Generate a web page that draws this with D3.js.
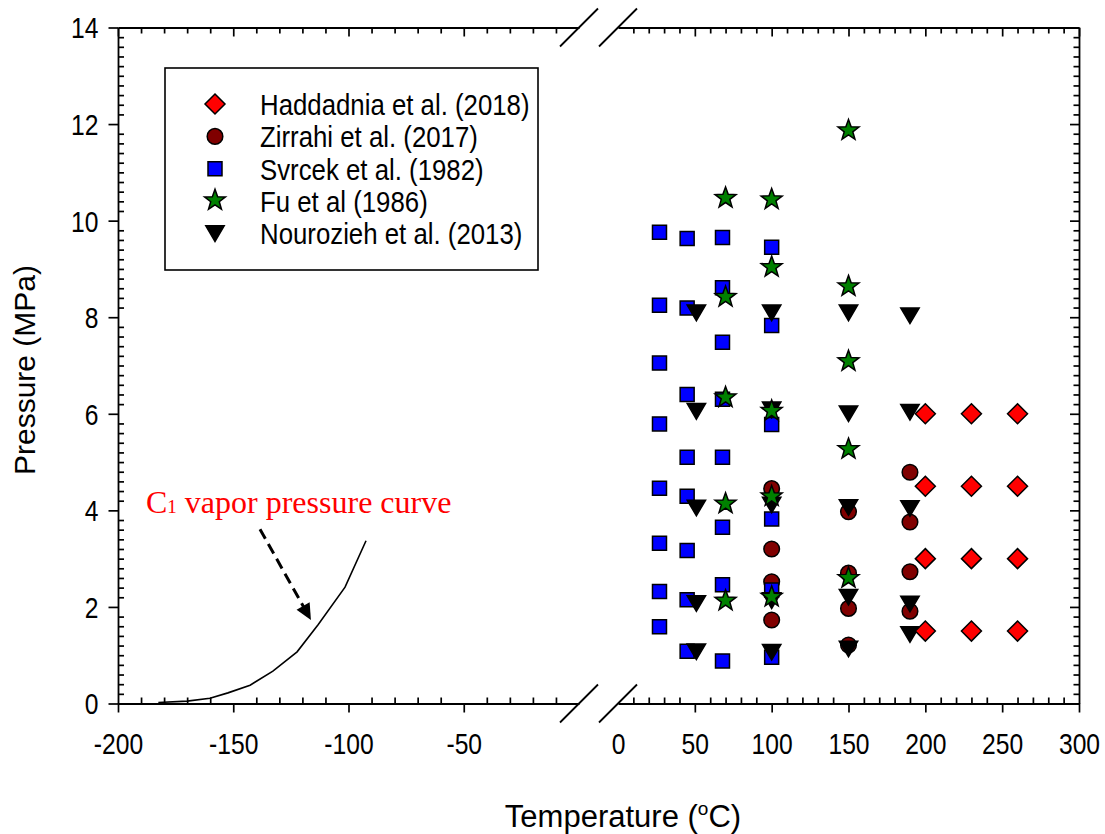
<!DOCTYPE html>
<html>
<head>
<meta charset="utf-8">
<script src="https://cdn.jsdelivr.net/npm/d3@7"></script>
<style>
  body { margin: 0; background: #fff; }
</style>
</head>
<body>
<svg id="chart" width="1105" height="834" font-family="'Liberation Sans', Arial, sans-serif"></svg>
<script>
// ---------- data ----------
// Haddadnia et al. (2018)
const haddadniaT = [200, 200, 200, 200, 230, 230, 230, 230, 260, 260, 260, 260];
const haddadniaP = [6.0, 4.5, 3.0, 1.5, 6.0, 4.5, 3.0, 1.5, 6.0, 4.5, 3.0, 1.5];

// Zirrahi et al. (2017)
const zirrahiT = [100, 100, 100, 100, 150, 150, 150, 150, 190, 190, 190, 190];
const zirrahiP = [4.45, 3.20, 2.52, 1.73, 3.97, 2.70, 1.97, 1.21, 4.79, 3.76, 2.73, 1.91];

// Svrcek et al. (1982)
const svrcekT = [27, 27, 27, 27, 27, 27, 27, 27,
                 45, 45, 45, 45, 45, 45, 45, 45,
                 68, 68, 68, 68, 68, 68, 68, 68,
                 100, 100, 100, 100, 100, 100];
const svrcekP = [9.76, 8.25, 7.05, 5.79, 4.46, 3.32, 2.32, 1.59,
                 9.63, 8.19, 6.40, 5.10, 4.29, 3.17, 2.15, 1.08,
                 9.65, 8.61, 7.48, 6.30, 5.10, 3.65, 2.46, 0.88,
                 9.45, 7.83, 5.78, 3.82, 2.35, 0.96];

// Fu et al (1986)
const fuT = [70, 70, 70, 70, 70, 100, 100, 100, 100, 100, 150, 150, 150, 150, 150];
const fuP = [10.45, 8.40, 6.32, 4.12, 2.11, 10.42, 9.02, 6.04, 4.27, 2.19, 11.85, 8.62, 7.07, 5.25, 2.58];

// Nourozieh et al. (2013)
const nouroziehT = [51, 51, 51, 51, 51, 100, 100, 100, 100, 100, 150, 150, 150, 150, 150, 190, 190, 190, 190, 190];
const nouroziehP = [8.09, 6.05, 4.05, 2.07, 1.07, 8.09, 6.08, 4.11, 2.13, 1.06, 8.09, 6.00, 4.06, 2.20, 1.13, 8.03, 6.03, 4.04, 2.06, 1.43];

// Methane (C1) vapor pressure curve
const vaporT = [-182.5, -170.0, -160.1, -152.3, -142.7, -132.8, -122.3, -113.2, -101.5, -92.4];
const vaporP = [0.02, 0.05, 0.11, 0.22, 0.38, 0.67, 1.07, 1.63, 2.41, 3.37];

// axis ticks
const xTicksLeft = [-200, -150, -100, -50];
const xTicksRight = [0, 50, 100, 150, 200, 250, 300];
const yTicks = [0, 2, 4, 6, 8, 10, 12, 14];

const seriesNames = ["Haddadnia et al. (2018)", "Zirrahi et al. (2017)", "Svrcek et al. (1982)",
                     "Fu et al (1986)", "Nourozieh et al. (2013)"];

// ---------- layout ----------
const SANS = "'Liberation Sans', Arial, sans-serif";
const SERIF = "'Liberation Serif', 'Times New Roman', serif";
const plot = { left: 118, right: 1079, top: 27.5, bottom: 703.5, breakL: 579, breakR: 618 };

const xL = d3.scaleLinear().domain([-200, 0]).range([plot.left, plot.breakL]);
const xR = d3.scaleLinear().domain([0, 300]).range([plot.breakR, plot.right]);
const y = d3.scaleLinear().domain([0, 14]).range([plot.bottom, plot.top]);

const svg = d3.select("#chart");
svg.append("rect").attr("width", 1105).attr("height", 834).attr("fill", "#fff");

// ---------- marker shapes ----------
function markerPath(shape) {
  switch (shape) {
    case "diamond": return "M0,-10L10,0L0,10L-10,0Z";
    case "circle": { const p = d3.path(); p.moveTo(7.8, 0); p.arc(0, 0, 7.8, 0, 2 * Math.PI); p.closePath(); return p.toString(); }
    case "square": return "M-7,-7H7V7H-7Z";
    case "star": {
      const R = 11, r = 4.5, pts = [];
      for (let i = 0; i < 10; i++) {
        const a = -Math.PI / 2 + i * Math.PI / 5;
        const rad = i % 2 === 0 ? R : r;
        pts.push([rad * Math.cos(a), rad * Math.sin(a) - 0.9]);
      }
      return "M" + pts.map(p => p[0].toFixed(2) + "," + p[1].toFixed(2)).join("L") + "Z";
    }
    case "triangleDown": return "M-9.2,-7.8L9.2,-7.8L0,7.8Z";
  }
}

const styles = {
  "Haddadnia et al. (2018)": { shape: "diamond", fill: "#ff0000" },
  "Zirrahi et al. (2017)": { shape: "circle", fill: "#800000" },
  "Svrcek et al. (1982)": { shape: "square", fill: "#0000ff" },
  "Fu et al (1986)": { shape: "star", fill: "#008000" },
  "Nourozieh et al. (2013)": { shape: "triangleDown", fill: "#000000" }
};

const seriesData = {
  "Haddadnia et al. (2018)": haddadniaT.map((t, i) => [t, haddadniaP[i]]),
  "Zirrahi et al. (2017)": zirrahiT.map((t, i) => [t, zirrahiP[i]]),
  "Svrcek et al. (1982)": svrcekT.map((t, i) => [t, svrcekP[i]]),
  "Fu et al (1986)": fuT.map((t, i) => [t, fuP[i]]),
  "Nourozieh et al. (2013)": nouroziehT.map((t, i) => [t, nouroziehP[i]])
};

// ---------- axes ----------
function styleAxis(g) {
  g.attr("fill", "none");
  g.selectAll("path.domain").attr("stroke", "#000").attr("stroke-width", 1.8);
  g.selectAll(".tick line").attr("stroke", "#000").attr("stroke-width", 1.7);
}
const LABEL_SX = 0.85;
const minorLeftX = d3.range(-190, 0, 10).filter(v => v % 50 !== 0);
const minorRightX = d3.range(10, 300, 10).filter(v => v % 50 !== 0);
const minorY = d3.range(1, 70).filter(i => i % 10 !== 0).map(i => i / 5);

// bottom, left segment
const bL = svg.append("g").attr("transform", `translate(0,${plot.bottom})`)
  .call(d3.axisBottom(xL).tickValues(xTicksLeft).tickSize(9).tickSizeOuter(0).tickPadding(20.5).tickFormat(d => String(d)));
svg.append("g").attr("transform", `translate(0,${plot.bottom})`)
  .call(d3.axisBottom(xL).tickValues(minorLeftX).tickSize(-6).tickSizeOuter(0).tickFormat(""))
  .call(g => g.select(".domain").remove()).call(styleAxis);
// bottom, right segment
const bR = svg.append("g").attr("transform", `translate(0,${plot.bottom})`)
  .call(d3.axisBottom(xR).tickValues(xTicksRight).tickSize(9).tickSizeOuter(0).tickPadding(20.5).tickFormat(d => String(d)));
bR.selectAll(".tick").filter(d => d === 0).select("line").remove();
svg.append("g").attr("transform", `translate(0,${plot.bottom})`)
  .call(d3.axisBottom(xR).tickValues(minorRightX).tickSize(-6).tickSizeOuter(0).tickFormat(""))
  .call(g => g.select(".domain").remove()).call(styleAxis);
[bL, bR].forEach(g => {
  styleAxis(g);
  g.selectAll("text").attr("font-size", 29).attr("font-family", SANS)
    .attr("fill", "#000").attr("transform", `scale(${LABEL_SX},1)`);
});

// top, both segments (inward ticks only)
[[xL, xTicksLeft, minorLeftX], [xR, xTicksRight.filter(d => d !== 0), minorRightX]].forEach(([sc, maj, min]) => {
  svg.append("g").attr("transform", `translate(0,${plot.top})`)
    .call(d3.axisTop(sc).tickValues(maj).tickSize(-9).tickSizeOuter(0).tickFormat("")).call(styleAxis);
  svg.append("g").attr("transform", `translate(0,${plot.top})`)
    .call(d3.axisTop(sc).tickValues(min).tickSize(-6).tickSizeOuter(0).tickFormat(""))
    .call(g => g.select(".domain").remove()).call(styleAxis);
});

// left
const yAx = svg.append("g").attr("transform", `translate(${plot.left},0)`)
  .call(d3.axisLeft(y).tickValues(yTicks).tickSize(9.5).tickSizeOuter(0).tickFormat(d => String(d)));
styleAxis(yAx);
yAx.selectAll("text").attr("font-size", 29).attr("font-family", SANS)
  .attr("fill", "#000").attr("x", -19.5 / LABEL_SX).attr("dy", "0.36em").attr("transform", `scale(${LABEL_SX},1)`);
svg.append("g").attr("transform", `translate(${plot.left},0)`)
  .call(d3.axisLeft(y).tickValues(minorY).tickSize(-6).tickSizeOuter(0).tickFormat(""))
  .call(g => g.select(".domain").remove()).call(styleAxis);

// right (inward ticks)
svg.append("g").attr("transform", `translate(${plot.right},0)`)
  .call(d3.axisRight(y).tickValues(yTicks).tickSize(-9).tickSizeOuter(0).tickFormat("")).call(styleAxis);
svg.append("g").attr("transform", `translate(${plot.right},0)`)
  .call(d3.axisRight(y).tickValues(minorY).tickSize(-5.5).tickSizeOuter(0).tickFormat(""))
  .call(g => g.select(".domain").remove()).call(styleAxis);

// axis break marks
const brk = svg.append("g").attr("stroke", "#000").attr("stroke-width", 1.8);
[plot.breakL, plot.breakR].forEach(bx => {
  [plot.bottom, plot.top].forEach(by => {
    brk.append("line").attr("x1", bx - 19).attr("y1", by + 19).attr("x2", bx + 19).attr("y2", by - 19);
  });
});

// axis titles
svg.append("text").attr("x", 623).attr("y", 827).attr("text-anchor", "middle")
  .attr("font-family", SANS).attr("font-size", 31).attr("fill", "#000")
  .call(t => {
    t.append("tspan").text("Temperature (");
    t.append("tspan").attr("font-size", 19).attr("dy", -12).text("o");
    t.append("tspan").attr("dy", 12).text("C)");
  });
svg.append("text").attr("transform", "translate(35,370) rotate(-90)").attr("text-anchor", "middle")
  .attr("font-family", SANS).attr("font-size", 30).attr("fill", "#000").text("Pressure (MPa)");

// ---------- vapor pressure curve ----------
const vapor = vaporT.map((t, i) => [t, vaporP[i]]);
svg.append("path").datum(vapor)
  .attr("d", d3.line().x(d => xL(d[0])).y(d => y(d[1])))
  .attr("fill", "none").attr("stroke", "#000").attr("stroke-width", 1.6);

// label and dashed arrow
svg.append("text").attr("x", 146).attr("y", 512.5)
  .attr("font-family", SERIF)
  .attr("fill", "#ff0000").attr("font-size", 32)
  .call(t => {
    t.append("tspan").text("C");
    t.append("tspan").attr("font-size", 19).text("1");
    t.append("tspan").text(" vapor pressure curve");
  });

const tail = [xL(-138.4), y(3.61)], tip = [xL(-116.3), y(1.73)];
const dx = tip[0] - tail[0], dy = tip[1] - tail[1], len = Math.hypot(dx, dy);
const ux = dx / len, uy = dy / len, headLen = 16, headHalf = 7.5;
const base = [tip[0] - ux * headLen, tip[1] - uy * headLen];
svg.append("line").attr("x1", tail[0]).attr("y1", tail[1]).attr("x2", base[0] + ux * 2).attr("y2", base[1] + uy * 2)
  .attr("stroke", "#000").attr("stroke-width", 3).attr("stroke-dasharray", "11,6");
svg.append("path")
  .attr("d", `M${tip[0]},${tip[1]}L${base[0] - uy * headHalf},${base[1] + ux * headHalf}L${base[0] + uy * headHalf},${base[1] - ux * headHalf}Z`)
  .attr("fill", "#000");

// ---------- scatter points ----------
const xPos = t => (t < 0 ? xL(t) : xR(t));
const drawOrder = ["Zirrahi et al. (2017)", "Svrcek et al. (1982)", "Nourozieh et al. (2013)",
                   "Fu et al (1986)", "Haddadnia et al. (2018)"];
drawOrder.forEach(name => {
  const st = styles[name];
  svg.append("g").selectAll("path").data(seriesData[name]).join("path")
    .attr("transform", d => `translate(${xPos(d[0])},${y(d[1])})`)
    .attr("d", markerPath(st.shape))
    .attr("fill", st.fill).attr("stroke", "#000").attr("stroke-width", 1.5)
    .attr("stroke-linejoin", "miter");
});

// ---------- legend ----------
const legend = svg.append("g");
legend.append("rect").attr("x", 165).attr("y", 68).attr("width", 373).attr("height", 202)
  .attr("fill", "#fff").attr("stroke", "#000").attr("stroke-width", 1.6);
seriesNames.forEach((name, i) => {
  const cy = 104 + i * 32.4;
  const st = styles[name];
  legend.append("path").attr("transform", `translate(215,${cy})`)
    .attr("d", markerPath(st.shape)).attr("fill", st.fill).attr("stroke", "#000").attr("stroke-width", 1.5);
  legend.append("text").attr("transform", `translate(260,${cy + 10.8}) scale(0.86,1)`)
    .attr("font-family", SANS).attr("font-size", 30).attr("fill", "#000").text(name);
});
</script>
</body>
</html>
